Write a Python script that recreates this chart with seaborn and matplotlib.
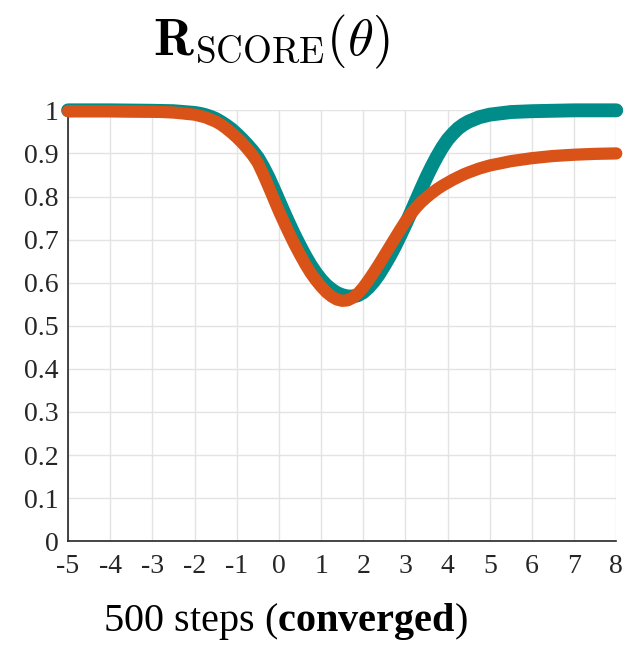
import matplotlib
matplotlib.use("Agg")
import matplotlib.pyplot as plt
import pandas as pd
import seaborn as sns

# theta positions and the two R_SCORE curves
theta = [-5, -4, -3, -2.5,
         -2.0, -1.875, -1.75, -1.625, -1.5, -1.375, -1.25, -1.125,
         -1.0, -0.875, -0.75, -0.625, -0.5, -0.375, -0.25, -0.125,
         0.0, 0.125, 0.25, 0.375, 0.5, 0.625, 0.75, 0.875,
         1.0, 1.125, 1.25, 1.375, 1.5, 1.625, 1.75, 1.875,
         2.0, 2.125, 2.25, 2.375, 2.5, 2.625, 2.75, 2.875,
         3.0, 3.125, 3.25, 3.375, 3.5, 3.625, 3.75, 3.875,
         4.0, 4.125, 4.25, 4.375, 4.5,
         4.75, 5, 5.5, 6, 6.5, 7, 7.5, 8]
teal_curve = [1.0, 1.0, 0.999, 0.998,
              0.994, 0.992, 0.989, 0.985, 0.980, 0.973, 0.965, 0.956,
              0.945, 0.933, 0.920, 0.906, 0.890, 0.869, 0.845, 0.818,
              0.790, 0.762, 0.735, 0.709, 0.685, 0.662, 0.641, 0.623,
              0.607, 0.594, 0.584, 0.576, 0.571, 0.568, 0.568, 0.571,
              0.578, 0.589, 0.603, 0.620, 0.640, 0.661, 0.684, 0.709,
              0.735, 0.762, 0.790, 0.818, 0.845, 0.870, 0.893, 0.914,
              0.932, 0.946, 0.958, 0.967, 0.974,
              0.984, 0.990, 0.996, 0.998, 0.999, 1.0, 1.0, 1.0]
orange_curve = [0.998, 0.998, 0.997, 0.995,
                0.990, 0.987, 0.984, 0.979, 0.974, 0.967, 0.958, 0.948,
                0.937, 0.925, 0.911, 0.896, 0.878, 0.852, 0.824, 0.795,
                0.766, 0.739, 0.713, 0.688, 0.665, 0.643, 0.623, 0.606,
                0.591, 0.578, 0.568, 0.561, 0.558, 0.559, 0.565, 0.575,
                0.589, 0.606, 0.624, 0.643, 0.663, 0.683, 0.703, 0.723,
                0.742, 0.759, 0.774, 0.787, 0.798, 0.808, 0.817, 0.825,
                0.832, 0.839, 0.845, 0.851, 0.856,
                0.865, 0.872, 0.882, 0.889, 0.894, 0.897, 0.899, 0.9]

x_ticks = list(range(-5, 9))
y_ticks = [0, 0.1, 0.2, 0.3, 0.4, 0.5, 0.6, 0.7, 0.8, 0.9, 1]
y_tick_labels = ["0", "0.1", "0.2", "0.3", "0.4", "0.5", "0.6", "0.7", "0.8", "0.9", "1"]

sns.set_theme(style="whitegrid")
plt.rcParams["font.family"] = ["Liberation Serif", "DejaVu Serif"]
plt.rcParams["mathtext.fontset"] = "custom"
plt.rcParams["mathtext.rm"] = "Liberation Serif"
plt.rcParams["mathtext.bf"] = "Liberation Serif:bold"
plt.rcParams["axes.unicode_minus"] = False

df = pd.DataFrame({"theta": theta, "teal": teal_curve, "orange": orange_curve})

fig = plt.figure(figsize=(6.36, 6.49), dpi=100)
ax = fig.add_axes([0.107, 0.166, 0.862, 0.664])

sns.lineplot(data=df, x="theta", y="teal", ax=ax, color="#008C89",
             linewidth=10, solid_capstyle="round", solid_joinstyle="round",
             clip_on=False, zorder=3)
sns.lineplot(data=df, x="theta", y="orange", ax=ax, color="#D95319",
             linewidth=8.8, solid_capstyle="round", solid_joinstyle="round",
             clip_on=False, zorder=4)

ax.set_xlim(-5, 8)
ax.set_ylim(0, 1)
ax.set_xticks(x_ticks)
ax.set_xticklabels([str(t) for t in x_ticks])
ax.set_yticks(y_ticks)
ax.set_yticklabels(y_tick_labels)

ax.grid(True, color="#e3e3e3", linewidth=1)
ax.set_facecolor("white")
for side in ["top", "right"]:
    ax.spines[side].set_visible(False)
for side in ["left", "bottom"]:
    ax.spines[side].set_visible(True)
    ax.spines[side].set_color("#262626")
    ax.spines[side].set_linewidth(1.2)
ax.tick_params(axis="both", direction="in", length=4, width=1, color="#262626",
               labelsize=20, labelcolor="#262626")
ax.tick_params(axis="x", pad=9)
ax.tick_params(axis="y", pad=7)
ax.set_xlabel("")
ax.set_ylabel("")

# title and x label sit left of the axes centre in the reference
fig.text(0.426, 0.915, r"$\mathbf{R}_{\mathrm{SCORE}}(\theta)$", fontsize=38,
         ha="center", va="baseline", math_fontfamily="cm", color="black")
fig.text(0.448, 0.027, r"500 steps ($\mathbf{converged}$)", fontsize=29,
         ha="center", va="baseline", color="black")

fig.savefig("out.png", dpi=100, facecolor="white")
